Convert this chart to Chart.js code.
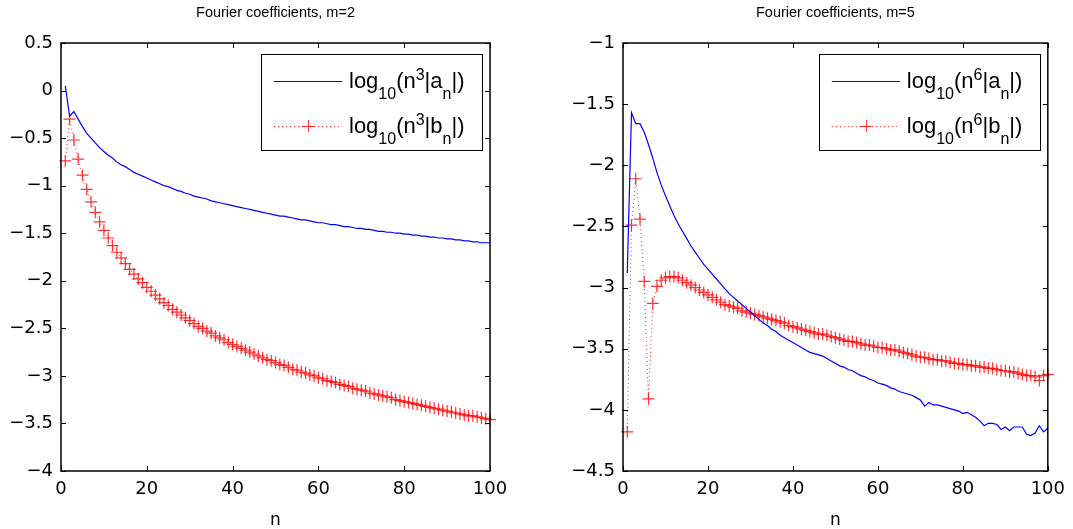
<!DOCTYPE html>
<html><head><meta charset="utf-8">
<script src="https://cdn.jsdelivr.net/npm/chart.js@4.4.1/dist/chart.umd.min.js"></script>
<style>
html,body{margin:0;padding:0;background:#fff;width:1073px;height:529px;overflow:hidden;}
#c1{position:absolute;left:0;top:0;}
#c2{position:absolute;left:560px;top:0;}
</style></head><body>
<canvas id="c1" width="560" height="529"></canvas>
<canvas id="c2" width="513" height="529"></canvas>
<script>
// ---------- data ----------
const nValues = [1,2,3,4,5,6,7,8,9,10,11,12,13,14,15,16,17,18,19,20,21,22,23,24,25,26,27,28,29,30,31,32,33,34,35,36,37,38,39,40,41,42,43,44,45,46,47,48,49,50,51,52,53,54,55,56,57,58,59,60,61,62,63,64,65,66,67,68,69,70,71,72,73,74,75,76,77,78,79,80,81,82,83,84,85,86,87,88,89,90,91,92,93,94,95,96,97,98,99,100];

// m = 2 : log10(n^3|a_n|)
const a2 = [0.05,-0.27,-0.22,-0.30,-0.38,-0.45,-0.50,-0.55,-0.60,-0.64,-0.68,-0.71,-0.75,-0.78,-0.80,-0.83,-0.86,-0.88,-0.90,-0.92,-0.94,-0.96,-0.98,-1.00,-1.01,-1.03,-1.05,-1.06,-1.08,-1.09,-1.11,-1.12,-1.13,-1.14,-1.16,-1.17,-1.18,-1.19,-1.20,-1.21,-1.22,-1.23,-1.24,-1.25,-1.26,-1.27,-1.28,-1.29,-1.30,-1.31,-1.32,-1.32,-1.33,-1.34,-1.35,-1.36,-1.36,-1.37,-1.38,-1.39,-1.39,-1.40,-1.41,-1.41,-1.42,-1.43,-1.43,-1.44,-1.45,-1.45,-1.46,-1.46,-1.47,-1.48,-1.48,-1.49,-1.49,-1.50,-1.50,-1.51,-1.51,-1.52,-1.52,-1.53,-1.53,-1.54,-1.54,-1.55,-1.55,-1.56,-1.56,-1.57,-1.57,-1.58,-1.58,-1.59,-1.59,-1.60,-1.60,-1.60];
// m = 2 : log10(n^3|b_n|)
const b2 = [-0.74,-0.30,-0.52,-0.72,-0.89,-1.04,-1.17,-1.28,-1.38,-1.47,-1.55,-1.63,-1.70,-1.76,-1.82,-1.88,-1.93,-1.98,-2.02,-2.07,-2.11,-2.15,-2.19,-2.23,-2.26,-2.30,-2.33,-2.36,-2.39,-2.42,-2.45,-2.48,-2.50,-2.53,-2.55,-2.58,-2.60,-2.62,-2.65,-2.67,-2.69,-2.71,-2.73,-2.75,-2.77,-2.79,-2.81,-2.83,-2.84,-2.86,-2.88,-2.89,-2.91,-2.93,-2.94,-2.96,-2.97,-2.99,-3.00,-3.02,-3.03,-3.05,-3.06,-3.07,-3.09,-3.10,-3.11,-3.13,-3.14,-3.15,-3.16,-3.18,-3.19,-3.20,-3.21,-3.22,-3.23,-3.25,-3.26,-3.27,-3.28,-3.29,-3.30,-3.31,-3.32,-3.33,-3.34,-3.35,-3.36,-3.37,-3.38,-3.39,-3.40,-3.41,-3.42,-3.42,-3.43,-3.44,-3.45,-3.46];
// m = 5 : log10(n^6|a_n|)
const a5 = [-2.88,-1.57,-1.66,-1.66,-1.73,-1.83,-1.94,-2.06,-2.16,-2.25,-2.33,-2.41,-2.48,-2.54,-2.60,-2.66,-2.71,-2.76,-2.81,-2.85,-2.89,-2.93,-2.97,-3.01,-3.05,-3.08,-3.11,-3.14,-3.17,-3.20,-3.23,-3.26,-3.29,-3.31,-3.34,-3.36,-3.39,-3.41,-3.43,-3.45,-3.47,-3.49,-3.51,-3.53,-3.54,-3.55,-3.56,-3.58,-3.60,-3.62,-3.64,-3.65,-3.67,-3.68,-3.70,-3.72,-3.73,-3.75,-3.76,-3.78,-3.79,-3.80,-3.82,-3.83,-3.85,-3.86,-3.87,-3.88,-3.90,-3.92,-3.97,-3.94,-3.96,-3.96,-3.97,-3.98,-3.99,-4.00,-4.01,-4.03,-4.02,-4.04,-4.06,-4.09,-4.13,-4.11,-4.11,-4.12,-4.16,-4.14,-4.17,-4.14,-4.14,-4.14,-4.20,-4.21,-4.19,-4.13,-4.18,-4.15];
// m = 5 : log10(n^6|b_n|)
const b5 = [-4.18,-2.49,-2.11,-2.44,-2.95,-3.91,-3.13,-2.99,-2.94,-2.92,-2.91,-2.91,-2.92,-2.94,-2.96,-2.98,-3.00,-3.02,-3.04,-3.06,-3.08,-3.10,-3.12,-3.14,-3.15,-3.16,-3.17,-3.19,-3.20,-3.21,-3.22,-3.23,-3.24,-3.25,-3.26,-3.27,-3.28,-3.29,-3.31,-3.32,-3.33,-3.34,-3.35,-3.36,-3.37,-3.38,-3.38,-3.39,-3.40,-3.41,-3.42,-3.43,-3.44,-3.44,-3.45,-3.46,-3.47,-3.47,-3.48,-3.49,-3.49,-3.50,-3.51,-3.51,-3.52,-3.53,-3.54,-3.55,-3.56,-3.57,-3.57,-3.58,-3.59,-3.59,-3.60,-3.60,-3.61,-3.62,-3.62,-3.63,-3.63,-3.64,-3.64,-3.65,-3.65,-3.66,-3.66,-3.67,-3.68,-3.68,-3.69,-3.69,-3.70,-3.71,-3.72,-3.72,-3.73,-3.76,-3.72,-3.71];

const xTicks = [0,20,40,60,80,100];
const yTicks2 = [-4,-3.5,-3,-2.5,-2,-1.5,-1,-0.5,0,0.5];
const yTicks5 = [-4.5,-4,-3.5,-3,-2.5,-2,-1.5,-1];
const titles = ['Fourier coefficients, m=2','Fourier coefficients, m=5'];
const xTitle = 'n';
const labels2 = ['log\u2081\u2080(n\u00B3|a\u2099|)','log\u2081\u2080(n\u00B3|b\u2099|)'];
const labels5 = ['log\u2081\u2080(n\u2076|a\u2099|)','log\u2081\u2080(n\u2076|b\u2099|)'];
// legend text pieces: [text, level] level 0 normal, -1 subscript, 1 superscript
const legendParts2 = [
  [['log',0],['10',-1],['(n',0],['3',1],['|a',0],['n',-1],['|)',0]],
  [['log',0],['10',-1],['(n',0],['3',1],['|b',0],['n',-1],['|)',0]]
];
const legendParts5 = [
  [['log',0],['10',-1],['(n',0],['6',1],['|a',0],['n',-1],['|)',0]],
  [['log',0],['10',-1],['(n',0],['6',1],['|b',0],['n',-1],['|)',0]]
];

// ---------- styling ----------
Chart.defaults.color = '#000';
const TICK_FONT = {family: 'DejaVu Sans', size: 18};
const FONT_LEG = 'Liberation Sans';

const framePlugin = {
  id: 'frame',
  afterDatasetsDraw(chart, args, opts) {
    const {ctx, chartArea: ca} = chart;
    const xs = chart.scales.x, ys = chart.scales.y;
    ctx.save();
    ctx.strokeStyle = '#000';
    ctx.lineWidth = 1.5;
    ctx.strokeRect(ca.left, ca.top, ca.right - ca.left, ca.bottom - ca.top);
    ctx.lineWidth = 1;
    const tl = 5;
    ctx.beginPath();
    opts.xt.forEach(v => {
      const px = Math.round(xs.getPixelForValue(v)) + 0.5;
      ctx.moveTo(px, ca.bottom); ctx.lineTo(px, ca.bottom - tl);
      ctx.moveTo(px, ca.top); ctx.lineTo(px, ca.top + tl);
    });
    opts.yt.forEach(v => {
      const py = Math.round(ys.getPixelForValue(v)) + 0.5;
      ctx.moveTo(ca.left, py); ctx.lineTo(ca.left + tl, py);
      ctx.moveTo(ca.right, py); ctx.lineTo(ca.right - tl, py);
    });
    ctx.stroke();
    ctx.restore();
  },
  afterDraw(chart, args, opts) {
    // legend box (MATLAB style)
    const {ctx, chartArea: ca} = chart;
    const w = 221, h = 96;
    const x0 = ca.right - 8 - w, y0 = ca.top + 11;
    ctx.save();
    ctx.fillStyle = '#fff';
    ctx.fillRect(x0, y0, w, h);
    ctx.strokeStyle = '#000';
    ctx.lineWidth = 1;
    ctx.strokeRect(Math.round(x0) + 0.5, Math.round(y0) + 0.5, w, h);
    chart.data.datasets.forEach((ds, i) => {
      const ly = y0 + 27 + i * 45;
      ctx.save();
      ctx.strokeStyle = ds.borderColor;
      ctx.lineWidth = 1;
      if (ds.borderDash) ctx.setLineDash(ds.borderDash);
      ctx.beginPath();
      ctx.moveTo(x0 + 13, Math.round(ly) + 0.5);
      ctx.lineTo(x0 + 81, Math.round(ly) + 0.5);
      ctx.stroke();
      ctx.setLineDash([]);
      if (ds.pointRadius > 0) {
        const cx = x0 + 47, r = ds.pointRadius;
        ctx.strokeStyle = ds.pointBorderColor;
        ctx.beginPath();
        ctx.moveTo(cx - r, Math.round(ly) + 0.5); ctx.lineTo(cx + r, Math.round(ly) + 0.5);
        ctx.moveTo(Math.round(cx) + 0.5, ly - r); ctx.lineTo(Math.round(cx) + 0.5, ly + r);
        ctx.stroke();
      }
      ctx.restore();
      // text
      let tx = x0 + 88;
      const base = ly + 7;
      ctx.fillStyle = '#000';
      ctx.textBaseline = 'alphabetic';
      ctx.textAlign = 'left';
      opts.parts[i].forEach(([t, lv]) => {
        const size = lv === 0 ? 22 : 16;
        ctx.font = size + 'px "' + FONT_LEG + '"';
        const dy = lv === -1 ? 11 : (lv === 1 ? -8 : 0);
        ctx.fillText(t, tx, base + dy);
        tx += ctx.measureText(t).width;
      });
    });
    ctx.restore();
  }
};

function makeChart(id, title, yMin, yMax, yTicks, aVals, bVals, labels, parts, yWidth, padRight) {
  const aData = nValues.map((x, i) => ({x, y: aVals[i]}));
  const bData = nValues.map((x, i) => ({x, y: bVals[i]}));
  return new Chart(document.getElementById(id), {
    type: 'line',
    data: {
      datasets: [
        {label: labels[0], data: aData, borderColor: '#0000ff', borderWidth: 1.2, pointRadius: 0, fill: false, tension: 0, clip: false},
        {label: labels[1], data: bData, borderColor: 'rgba(255,0,0,0.85)', borderWidth: 1, borderDash: [1, 3],
         pointStyle: 'cross', pointRadius: 6, pointBorderColor: 'rgba(255,0,0,0.8)', pointBorderWidth: 1.2,
         pointBackgroundColor: 'transparent', fill: false, tension: 0, clip: false}
      ]
    },
    options: {
      responsive: false,
      animation: false,
      events: [],
      layout: {padding: {left: 0, right: padRight, top: 0, bottom: 0}},
      plugins: {
        legend: {display: false},
        tooltip: {enabled: false},
        title: {display: true, text: title, color: '#000', fullSize: false, align: 'center',
                font: {family: 'Liberation Sans', size: 14.5, weight: 'normal', lineHeight: 1.2},
                padding: {top: 4, bottom: 21.6}},
        frame: {xt: xTicks, yt: yTicks, parts: parts}
      },
      scales: {
        x: {
          type: 'linear', min: 0, max: 100,
          afterBuildTicks: s => { s.ticks = xTicks.map(v => ({value: v})); },
          afterFit: s => { s.height = 58; },
          grid: {display: false, drawTicks: false},
          border: {display: false},
          ticks: {font: TICK_FONT, color: '#000', padding: 8, maxRotation: 0},
          title: {display: true, text: xTitle, color: '#000', font: {family: 'DejaVu Sans', size: 17, lineHeight: 1.0}, padding: {top: 0, bottom: 0}}
        },
        y: {
          type: 'linear', min: yMin, max: yMax,
          afterBuildTicks: s => { s.ticks = yTicks.map(v => ({value: v})); },
          afterFit: s => { s.width = yWidth; },
          grid: {display: false, drawTicks: false},
          border: {display: false},
          ticks: {font: TICK_FONT, color: '#000', padding: 8,
                  callback: v => String(v).replace('-', '\u2212')}
        }
      }
    },
    plugins: [framePlugin]
  });
}

makeChart('c1', titles[0], -4, 0.5, yTicks2, a2, b2, labels2, legendParts2, 61, 70);
makeChart('c2', titles[1], -4.5, -1, yTicks5, a5, b5, labels5, legendParts5, 63, 22);
</script>
</body></html>
